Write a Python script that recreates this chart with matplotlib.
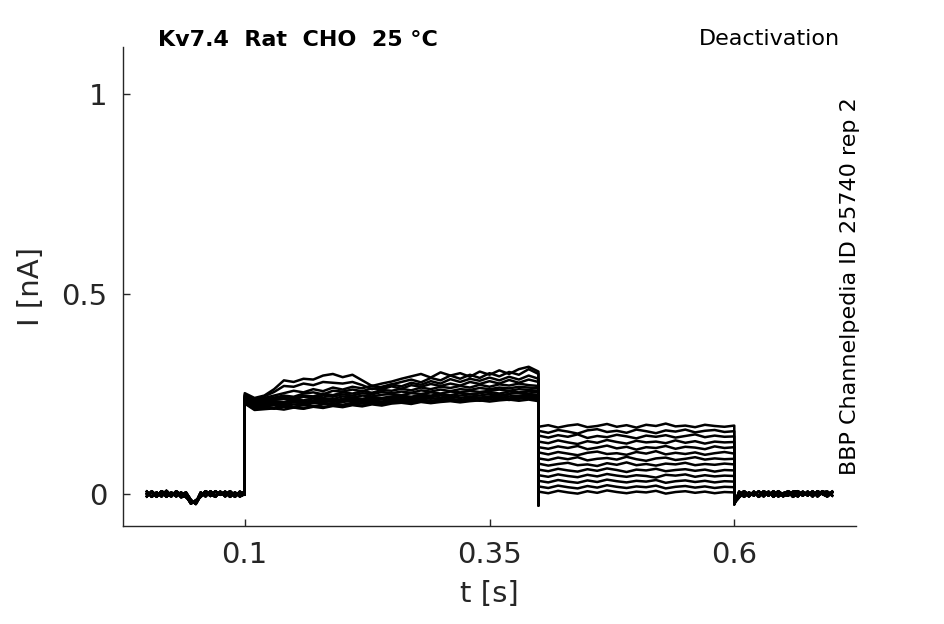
import numpy as np
from matplotlib import pyplot as plt

# time grids of the four protocol segments [s]
t_pre = np.arange(0, 0.1001, 0.005)
t_act = np.arange(0.1, 0.4001, 0.01)
t_tail = np.arange(0.4, 0.6001, 0.01)
t_post = np.arange(0.6, 0.7001, 0.005)

# baseline before the step [nA]
base_pre = [
    [0.006, -0.007, 0.004, -0.006, 0.008, -0.004, 0.006, -0.008, -0.004, -0.024, -0.016,
     -0.007, 0.006, -0.005, 0.007, -0.002, 0.006, -0.007, 0.004, -0.006, 0.000],
    [-0.006, 0.007, -0.004, 0.006, -0.007, 0.004, -0.006, 0.004, -0.008, -0.018, -0.022,
     0.004, -0.006, 0.007, -0.004, 0.006, -0.006, 0.004, -0.007, 0.006, -0.002],
    [0.000, 0.004, -0.007, 0.007, 0.000, -0.006, 0.007, -0.002, 0.004, -0.015, -0.025,
     -0.004, 0.007, 0.000, -0.007, 0.005, -0.002, 0.007, -0.004, 0.002, 0.004],
]

# baseline after the tail [nA]
base_post = [
    [-0.022, -0.008, 0.004, -0.006, 0.006, -0.007, 0.004, -0.004, 0.007, -0.006, 0.002,
     0.006, -0.007, 0.004, -0.004, 0.006, -0.006, 0.007, 0.000, -0.006, 0.004],
    [-0.026, 0.006, -0.007, 0.004, -0.004, 0.007, -0.006, 0.006, -0.007, 0.004, -0.006,
     0.007, 0.000, -0.006, 0.006, -0.004, 0.007, -0.006, 0.004, 0.006, -0.004],
    [-0.018, -0.002, 0.007, -0.002, 0.002, -0.004, 0.007, 0.000, -0.002, 0.007, -0.002,
     -0.004, 0.006, 0.007, -0.002, 0.002, 0.000, -0.002, 0.007, -0.002, 0.006],
]

# activating step, one row per sweep [nA]
act = [
    [0.252, 0.240, 0.246, 0.262, 0.284, 0.280, 0.288, 0.286, 0.296, 0.300, 0.292, 0.298, 0.284, 0.270, 0.276, 0.281,
     0.288, 0.294, 0.300, 0.291, 0.304, 0.296, 0.302, 0.293, 0.306, 0.298, 0.309, 0.300, 0.312, 0.318, 0.306],
    [0.248, 0.236, 0.244, 0.255, 0.270, 0.268, 0.276, 0.272, 0.280, 0.278, 0.276, 0.280, 0.272, 0.262, 0.268, 0.274,
     0.280, 0.286, 0.279, 0.290, 0.284, 0.296, 0.288, 0.298, 0.290, 0.302, 0.294, 0.305, 0.298, 0.312, 0.300],
    [0.246, 0.232, 0.240, 0.246, 0.252, 0.258, 0.254, 0.262, 0.257, 0.266, 0.261, 0.268, 0.264, 0.271, 0.266, 0.274,
     0.269, 0.278, 0.273, 0.282, 0.276, 0.287, 0.280, 0.288, 0.283, 0.291, 0.284, 0.293, 0.286, 0.296, 0.288],
    [0.244, 0.228, 0.236, 0.241, 0.246, 0.243, 0.251, 0.254, 0.249, 0.258, 0.256, 0.261, 0.257, 0.264, 0.262, 0.269,
     0.263, 0.272, 0.268, 0.275, 0.270, 0.276, 0.271, 0.280, 0.275, 0.282, 0.276, 0.285, 0.278, 0.286, 0.280],
    [0.242, 0.226, 0.232, 0.237, 0.242, 0.239, 0.246, 0.244, 0.251, 0.247, 0.254, 0.251, 0.257, 0.253, 0.260, 0.258,
     0.263, 0.259, 0.266, 0.262, 0.268, 0.265, 0.270, 0.266, 0.273, 0.268, 0.274, 0.271, 0.276, 0.272, 0.270],
    [0.240, 0.224, 0.230, 0.235, 0.238, 0.236, 0.243, 0.240, 0.246, 0.243, 0.249, 0.246, 0.252, 0.249, 0.255, 0.252,
     0.256, 0.253, 0.259, 0.256, 0.261, 0.257, 0.262, 0.260, 0.265, 0.262, 0.266, 0.264, 0.268, 0.266, 0.264],
    [0.238, 0.222, 0.228, 0.232, 0.230, 0.236, 0.234, 0.239, 0.240, 0.237, 0.244, 0.241, 0.246, 0.244, 0.248, 0.250,
     0.247, 0.252, 0.250, 0.254, 0.251, 0.256, 0.254, 0.258, 0.255, 0.258, 0.261, 0.258, 0.262, 0.260, 0.258],
    [0.236, 0.220, 0.226, 0.229, 0.226, 0.232, 0.230, 0.234, 0.237, 0.233, 0.238, 0.241, 0.238, 0.242, 0.240, 0.244,
     0.246, 0.243, 0.248, 0.246, 0.250, 0.247, 0.252, 0.250, 0.252, 0.255, 0.251, 0.256, 0.254, 0.256, 0.254],
    [0.234, 0.218, 0.222, 0.226, 0.224, 0.229, 0.226, 0.230, 0.233, 0.230, 0.234, 0.237, 0.234, 0.238, 0.236, 0.240,
     0.242, 0.239, 0.244, 0.242, 0.246, 0.243, 0.246, 0.249, 0.246, 0.250, 0.247, 0.250, 0.253, 0.250, 0.248],
    [0.232, 0.216, 0.220, 0.223, 0.220, 0.224, 0.222, 0.227, 0.228, 0.225, 0.230, 0.233, 0.230, 0.234, 0.231, 0.236,
     0.238, 0.235, 0.240, 0.238, 0.240, 0.243, 0.240, 0.244, 0.241, 0.244, 0.247, 0.244, 0.246, 0.248, 0.244],
    [0.230, 0.214, 0.218, 0.216, 0.221, 0.218, 0.222, 0.219, 0.224, 0.226, 0.223, 0.228, 0.226, 0.230, 0.227, 0.232,
     0.234, 0.231, 0.236, 0.233, 0.236, 0.238, 0.235, 0.240, 0.238, 0.240, 0.243, 0.239, 0.242, 0.244, 0.240],
    [0.228, 0.212, 0.216, 0.213, 0.218, 0.216, 0.214, 0.220, 0.217, 0.222, 0.219, 0.224, 0.221, 0.226, 0.224, 0.228,
     0.230, 0.227, 0.232, 0.229, 0.232, 0.234, 0.231, 0.236, 0.233, 0.236, 0.238, 0.235, 0.238, 0.240, 0.236],
    [0.226, 0.210, 0.212, 0.214, 0.211, 0.216, 0.213, 0.218, 0.215, 0.220, 0.217, 0.222, 0.219, 0.224, 0.221, 0.226,
     0.228, 0.225, 0.230, 0.227, 0.230, 0.232, 0.229, 0.232, 0.234, 0.231, 0.234, 0.236, 0.233, 0.236, 0.232],
]

# deactivating tail, one row per sweep [nA]
tail = [
    [0.168, 0.172, 0.166, 0.171, 0.174, 0.167, 0.170, 0.175, 0.168, 0.172, 0.166, 0.173, 0.170, 0.176, 0.169, 0.171, 0.167, 0.173, 0.170, 0.168, 0.171],
    [0.158, 0.153, 0.160, 0.156, 0.151, 0.159, 0.162, 0.155, 0.158, 0.153, 0.161, 0.157, 0.152, 0.159, 0.156, 0.161, 0.154, 0.158, 0.160, 0.155, 0.157],
    [0.146, 0.141, 0.147, 0.143, 0.149, 0.140, 0.145, 0.142, 0.148, 0.144, 0.139, 0.146, 0.143, 0.147, 0.141, 0.145, 0.149, 0.142, 0.146, 0.143, 0.144],
    [0.131, 0.127, 0.134, 0.129, 0.125, 0.132, 0.128, 0.135, 0.130, 0.126, 0.133, 0.129, 0.131, 0.127, 0.134, 0.128, 0.132, 0.126, 0.131, 0.129, 0.130],
    [0.117, 0.113, 0.119, 0.115, 0.120, 0.112, 0.116, 0.121, 0.114, 0.118, 0.111, 0.117, 0.115, 0.120, 0.113, 0.118, 0.116, 0.112, 0.119, 0.115, 0.117],
    [0.104, 0.099, 0.105, 0.101, 0.097, 0.103, 0.106, 0.100, 0.102, 0.098, 0.105, 0.101, 0.107, 0.099, 0.103, 0.100, 0.104, 0.098, 0.102, 0.105, 0.101],
    [0.089, 0.085, 0.091, 0.087, 0.092, 0.084, 0.088, 0.090, 0.086, 0.093, 0.087, 0.083, 0.089, 0.091, 0.085, 0.088, 0.092, 0.086, 0.089, 0.087, 0.088],
    [0.076, 0.071, 0.075, 0.078, 0.072, 0.074, 0.070, 0.077, 0.073, 0.079, 0.072, 0.075, 0.071, 0.076, 0.074, 0.078, 0.072, 0.075, 0.073, 0.076, 0.074],
    [0.061, 0.057, 0.063, 0.059, 0.056, 0.062, 0.058, 0.064, 0.060, 0.055, 0.061, 0.059, 0.063, 0.057, 0.060, 0.062, 0.058, 0.061, 0.056, 0.060, 0.059],
    [0.047, 0.043, 0.049, 0.045, 0.042, 0.048, 0.044, 0.050, 0.046, 0.043, 0.047, 0.045, 0.041, 0.048, 0.046, 0.049, 0.043, 0.047, 0.044, 0.046, 0.045],
    [0.033, 0.029, 0.035, 0.031, 0.028, 0.034, 0.030, 0.036, 0.032, 0.029, 0.033, 0.031, 0.035, 0.028, 0.032, 0.034, 0.030, 0.033, 0.029, 0.032, 0.031],
    [0.019, 0.015, 0.021, 0.017, 0.014, 0.020, 0.016, 0.022, 0.018, 0.015, 0.019, 0.017, 0.021, 0.014, 0.018, 0.020, 0.016, 0.019, 0.015, 0.018, 0.017],
    [0.006, 0.002, 0.008, 0.004, 0.001, 0.007, 0.003, 0.009, 0.005, 0.002, 0.006, 0.004, 0.008, 0.001, 0.005, 0.007, 0.003, 0.006, 0.002, 0.005, 0.004],
]

# capacitive dip when stepping to the tail potential [nA]
tail_spike = -0.028

xticks = [0.1, 0.35, 0.6]
xticklabels = ['0.1', '0.35', '0.6']
yticks = [0, 0.5, 1]
yticklabels = ['0', '0.5', '1']

txtcol = '#262626'

fig = plt.figure(figsize=(9.45, 6.24), dpi=100)
ax = fig.add_axes([0.130, 0.157, 0.776, 0.768])

for i in range(len(act)):
    pre = base_pre[i % 3]
    post = base_post[i % 3]
    t = np.concatenate([t_pre, t_act, [0.4], t_tail, t_post])
    y = np.concatenate([pre, act[i], [tail_spike], tail[i], post])
    ax.plot(t, y, color='k', lw=1.8)

ax.set_xlim(-0.0245, 0.7245)
ax.set_ylim(-0.08, 1.1175)

ax.set_xticks(xticks)
ax.set_xticklabels(xticklabels)
ax.set_yticks(yticks)
ax.set_yticklabels(yticklabels)
ax.tick_params(direction='in', length=5, width=1, colors=txtcol, labelsize=21, pad=11)

ax.spines['top'].set_visible(False)
ax.spines['right'].set_visible(False)
for s in ['left', 'bottom']:
    ax.spines[s].set_color(txtcol)
    ax.spines[s].set_linewidth(1)

ax.set_xlabel('t [s]', fontsize=21, color=txtcol, labelpad=8)
ax.set_ylabel('I [nA]', fontsize=21, color=txtcol, labelpad=12)

fig.text(0.167, 0.936, 'Kv7.4  Rat  CHO  25 \u00b0C', fontsize=16, fontweight='bold',
         ha='left', va='center', color='k')
fig.text(0.889, 0.937, 'Deactivation', fontsize=16, ha='right', va='center', color='k')
fig.text(0.8995, 0.542, 'BBP Channelpedia ID 25740 rep 2', fontsize=16, rotation=90,
         ha='center', va='center', color='k')

fig.savefig('out.png', dpi=100)
